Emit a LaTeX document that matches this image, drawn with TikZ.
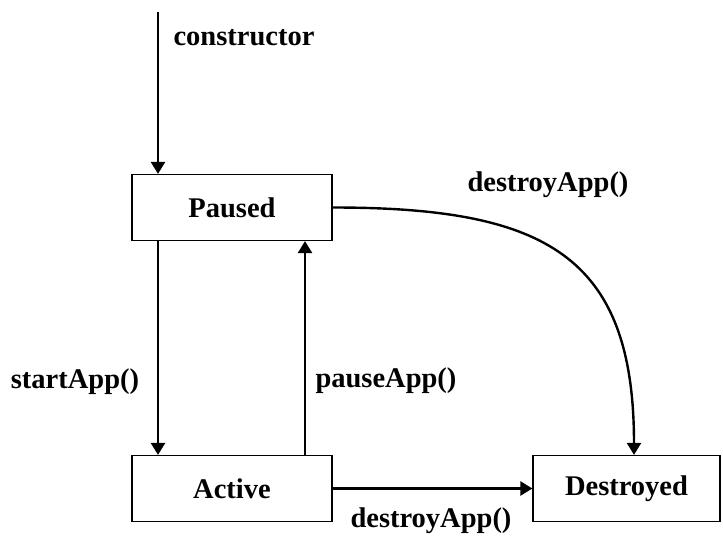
\documentclass[tikz,border=0pt]{standalone}
\usepackage{fontspec}
\setmainfont{Liberation Serif}
\usetikzlibrary{arrows.meta}
\begin{document}
\begin{tikzpicture}[x=1pt,y=-1pt,
  every node/.style={font=\fontsize{28.5}{32}\selectfont\bfseries},
  state/.style={draw, line width=1.2pt, minimum width=200pt, minimum height=66pt, inner sep=0pt},
  conn/.style={line width=2.4pt, -{Triangle[length=12pt,width=14pt]}},
  lbl/.style={inner sep=0pt}]
\useasboundingbox (0,0) rectangle (723,538);
\node[state] (paused) at (232,207.5) {Paused};
\node[state] (active) at (232,488.5) {Active};
\node[state, minimum width=187pt] (destroyed) at (626.5,488.5) {Destroyed};
\coordinate (start) at (158,12);
\coordinate (px) at (305,0);
\coordinate (dx) at (634,0);
\draw[conn] (start) -- (start |- paused.north);
\draw[conn] (paused.south -| start) -- (active.north -| start);
\draw[conn] (active.north -| px) -- (paused.south -| px);
\draw[conn] (paused.east) .. controls (545,207.5) and (634,255) .. (destroyed.north -| dx);
\draw[conn] (active.east) -- (destroyed.west);
\node[lbl] (lc) at (244,38) {constructor};
\node[lbl] (ls) at (75,382) {startApp()};
\node[lbl] (lp) at (386,381) {pauseApp()};
\node[lbl] (ld1) at (548,185) {destroyApp()};
\node[lbl] (ld2) at (431,521) {destroyApp()};
\end{tikzpicture}
\end{document}
